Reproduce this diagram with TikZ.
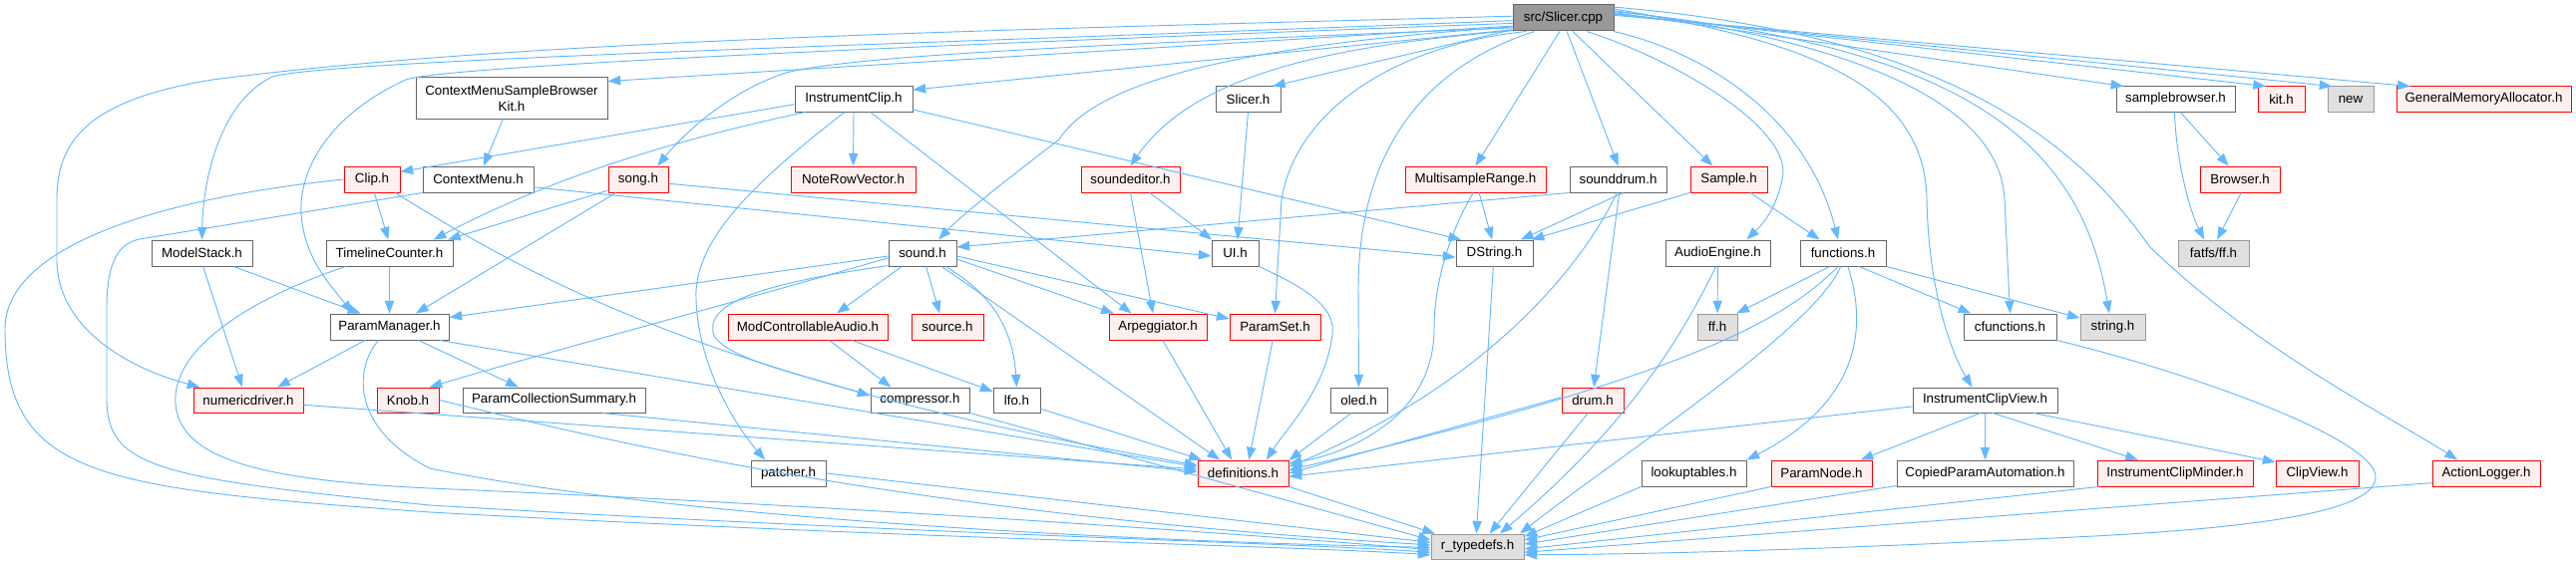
\documentclass[tikz,border=0pt]{standalone}
\usepackage{fontspec}
\setmainfont{Liberation Sans}
\usetikzlibrary{arrows.meta}
\definecolor{edgec}{HTML}{63B8FF}
\definecolor{nrmdraw}{HTML}{666666}
\definecolor{reddraw}{HTML}{FF0000}
\definecolor{redfill}{HTML}{FFF0F0}
\definecolor{extdraw}{HTML}{999999}
\definecolor{extfill}{HTML}{E0E0E0}
\definecolor{rootfill}{HTML}{999999}
\definecolor{rootdraw}{HTML}{666666}
\newcommand\mkbox[7]{\node[#2, minimum width={(#5-#3)*0.75pt}, minimum height={(#6-#4)*0.75pt}] (#1) at ({(#3+#5)/2},{(#4+#6)/2}) {#7};}
\tikzset{
  basebox/.style={rectangle, inner sep=0pt, line width=0.75pt, font=\fontsize{10}{12}\selectfont, text=black},
  nrm/.style={basebox, draw=nrmdraw, fill=white},
  redb/.style={basebox, draw=reddraw, fill=redfill},
  ext/.style={basebox, draw=extdraw, fill=extfill},
  rootb/.style={basebox, draw=rootdraw, fill=rootfill},
  e/.style={draw=edgec, line width=0.7pt, -{Triangle[length=9.5pt,width=7pt]}},
}
\begin{document}
\begin{tikzpicture}[x=0.75pt,y=-0.75pt]
\useasboundingbox (0,0) rectangle (2583,567);
% row 0
\mkbox{root}{rootb}{1517}{5}{1618}{31}{src/Slicer.cpp}
% row 1
\mkbox{cmsbk}{nrm,align=center}{417}{78}{609}{119}{ContextMenuSampleBrowser\\Kit.h}
\mkbox{iclip}{nrm}{797}{87}{915}{112}{InstrumentClip.h}
\mkbox{slicerh}{nrm}{1219}{87}{1284}{112}{Slicer.h}
\mkbox{sbrowser}{nrm}{2122}{87}{2241}{112}{samplebrowser.h}
\mkbox{kit}{redb}{2264}{87}{2311}{112}{kit.h}
\mkbox{new}{ext}{2334}{87}{2380}{112}{new}
\mkbox{gma}{redb}{2403}{87}{2578}{112}{GeneralMemoryAllocator.h}
% row 2
\mkbox{clip}{redb}{345}{167}{401}{193}{Clip.h}
\mkbox{cmenu}{nrm}{424}{167}{535}{193}{ContextMenu.h}
\mkbox{song}{redb}{610}{167}{670}{193}{song.h}
\mkbox{nrv}{redb}{793}{167}{918}{193}{NoteRowVector.h}
\mkbox{sedit}{redb}{1084}{167}{1183}{193}{soundeditor.h}
\mkbox{msr}{redb}{1409}{167}{1550}{193}{MultisampleRange.h}
\mkbox{sdrum}{nrm}{1574}{167}{1671}{193}{sounddrum.h}
\mkbox{sample}{redb}{1695}{167}{1772}{193}{Sample.h}
\mkbox{browser}{redb}{2206}{167}{2286}{193}{Browser.h}
% row 3
\mkbox{mstack}{nrm}{152}{241}{253}{267}{ModelStack.h}
\mkbox{tcount}{nrm}{327}{241}{454}{267}{TimelineCounter.h}
\mkbox{sound}{nrm}{891}{241}{959}{267}{sound.h}
\mkbox{ui}{nrm}{1215}{241}{1262}{267}{UI.h}
\mkbox{dstring}{nrm}{1460}{241}{1537}{267}{DString.h}
\mkbox{aeng}{nrm}{1670}{241}{1775}{267}{AudioEngine.h}
\mkbox{func}{nrm}{1805}{241}{1891}{267}{functions.h}
\mkbox{fatfs}{ext}{2184}{241}{2255}{267}{fatfs/ff.h}
% row 4
\mkbox{pman}{nrm}{331}{315}{450}{341}{ParamManager.h}
\mkbox{mca}{redb}{730}{315}{890}{341}{ModControllableAudio.h}
\mkbox{source}{redb}{914}{315}{986}{341}{source.h}
\mkbox{arp}{redb}{1112}{315}{1210}{341}{Arpeggiator.h}
\mkbox{pset}{redb}{1233}{315}{1324}{341}{ParamSet.h}
\mkbox{ff}{ext}{1702}{315}{1742}{341}{ff.h}
\mkbox{cfunc}{nrm}{1969}{315}{2062}{341}{cfunctions.h}
\mkbox{string}{ext}{2086}{315}{2151}{341}{string.h}
% row 5
\mkbox{numdrv}{redb}{194}{389}{304}{414}{numericdriver.h}
\mkbox{knob}{redb}{378}{389}{440}{414}{Knob.h}
\mkbox{pcs}{nrm}{464}{389}{647}{414}{ParamCollectionSummary.h}
\mkbox{comp}{nrm}{873}{389}{972}{414}{compressor.h}
\mkbox{lfo}{nrm}{996}{389}{1043}{414}{lfo.h}
\mkbox{oled}{nrm}{1334}{389}{1391}{414}{oled.h}
\mkbox{drum}{redb}{1566}{389}{1628}{414}{drum.h}
\mkbox{icv}{nrm}{1918}{389}{2063}{414}{InstrumentClipView.h}
% row 6
\mkbox{patcher}{nrm}{753}{462}{828}{488}{patcher.h}
\mkbox{defs}{redb}{1201}{462}{1292}{488}{definitions.h}
\mkbox{lut}{nrm}{1646}{462}{1751}{488}{lookuptables.h}
\mkbox{pnode}{redb}{1776}{462}{1877}{488}{ParamNode.h}
\mkbox{cpa}{nrm}{1902}{462}{2079}{488}{CopiedParamAutomation.h}
\mkbox{icm}{redb}{2103}{462}{2259}{488}{InstrumentClipMinder.h}
\mkbox{cview}{redb}{2282}{462}{2365}{488}{ClipView.h}
\mkbox{alog}{redb}{2439}{462}{2547}{488}{ActionLogger.h}
% row 7
\mkbox{rtd}{ext}{1435}{536}{1528}{561}{r\_typedefs.h}

% ---------- edges from root ----------
\draw[e] (root.178) .. controls (1000,30) and (520,40) .. (213,80) .. controls (90,100) and (57,140) .. (57,200) -- (57,262) .. controls (58,330) and (130,370) .. (numdrv.165);
\draw[e] (root.183) .. controls (900,45) and (330,60) .. (273,77) .. controls (225,100) and (204,170) .. (mstack.north);
\draw[e] (root.186) .. controls (800,50) and (440,68) .. (407,80) .. controls (330,115) and (300,170) .. (302,213) .. controls (304,260) and (335,290) .. (pman.160);
\draw[e] (root.189) -- (cmsbk.10);
\draw[e] (root.191) .. controls (1100,45) and (860,55) .. (788,73) .. controls (730,92) and (685,135) .. (song.35);
\draw[e] (root.193) -- (iclip.9);
\draw[e] (root.190) .. controls (1250,45) and (1100,80) .. (1062,140) .. controls (1010,180) and (965,215) .. (sound.40);
\draw[e] (root.194) .. controls (1350,45) and (1200,70) .. (sedit.north);
\draw[e] (root.193) -- (slicerh.28);
\draw[e] (root.200) .. controls (1400,45) and (1300,110) .. (1285,200) -- (pset.north);
\draw[e] (root.205) .. controls (1420,70) and (1362,160) .. (1362,290) -- (oled.north);
\draw[e] (root.255) -- (msr.north);
\draw[e] (root.285) -- (sdrum.north);
\draw[e] (root.305) -- (sample.140);
\draw[e] (root.330) .. controls (1680,60) and (1800,130) .. (1787,180) .. controls (1780,215) and (1762,230) .. (aeng.25);
\draw[e] (root.345) .. controls (1700,50) and (1810,110) .. (func.110);
\draw[e] (root.10) .. controls (1800,40) and (1930,80) .. (1932,200) .. controls (1934,300) and (1960,360) .. (icv.135);
\draw[e] (root.8) .. controls (1850,40) and (2005,100) .. (2010,200) -- (cfunc.north);
\draw[e] (root.7) .. controls (1950,45) and (2085,130) .. (string.105);
\draw[e] (root.12) .. controls (1950,35) and (2080,140) .. (2155,247) .. controls (2260,350) and (2400,420) .. (alog.155);
\draw[e] (root.6) -- (sbrowser.166);
\draw[e] (root.5) -- (kit.140);
\draw[e] (root.4) -- (new.145);
\draw[e] (root.3) -- (gma.170);

% ---------- row 1 sources ----------
\draw[e] (cmsbk) -- (cmenu);
\draw[e] (iclip.185) -- (clip.15);
\draw[e] (iclip.195) .. controls (680,140) and (560,175) .. (tcount.17);
\draw[e] (iclip.south) -- (nrv.north);
\draw[e] (iclip.322) -- (arp.153);
\draw[e] (iclip.350) -- (dstring.158);
\draw[e] (iclip.235) .. controls (760,180) and (695,240) .. (698,300) .. controls (700,370) and (740,430) .. (patcher.150);
\draw[e] (slicerh.south) -- (ui.80);
\draw[e] (sbrowser.290) -- (browser.130);
\draw[e] (sbrowser.265) .. controls (2182,160) and (2195,210) .. (fatfs.125);

% ---------- row 2 sources ----------
\draw[e] (clip.280) -- (tcount.95);
\draw[e] (clip.330) .. controls (520,270) and (700,380) .. (defs.170);
\draw[e] (clip.west) .. controls (150,200) and (5,250) .. (5,330) .. controls (5,480) and (100,490) .. (431,514) .. controls (900,540) and (1300,548) .. (rtd.190);
\draw[e] (cmenu.352) -- (ui.187);
\draw[e] (cmenu.south west) -- (140,240) .. controls (115,245) and (107,270) .. (107,310) -- (107,400) .. controls (107,470) and (160,480) .. (431,507) .. controls (900,535) and (1300,545) .. (rtd.187);
\draw[e] (song.200) -- (tcount.13);
\draw[e] (song.211) -- (pman.27);
\draw[e] (song.352) -- (dstring.186);
\draw[e] (sedit.325) -- (ui.150);
\draw[e] (sedit.270) -- (arp.110);
\draw[e] (msr.285) -- (dstring.100);
\draw[e] (msr.260) .. controls (1450,240) and (1438,290) .. (1438,330) .. controls (1438,420) and (1350,455) .. (defs.12);
\draw[e] (sdrum.south west) -- (sound.10);
\draw[e] (sdrum.290) -- (dstring.27);
\draw[e] (sdrum.275) -- (drum.85);
\draw[e] (sdrum.265) .. controls (1590,260) and (1500,380) .. (defs.8);
\draw[e] (sample.south west) -- (dstring.20);
\draw[e] (sample.328) -- (func.150);
\draw[e] (browser.275) -- (fatfs.75);

% ---------- row 3 sources ----------
\draw[e] (mstack.337) -- (pman.155);
\draw[e] (mstack.275) -- (numdrv.115);
\draw[e] (tcount) -- (pman);
\draw[e] (tcount.197) .. controls (250,300) and (172,350) .. (176,405) .. controls (180,460) and (260,482) .. (431,490) .. controls (900,510) and (1300,540) .. (rtd.184);
\draw[e] (sound.185) -- (pman.9);
\draw[e] (sound.188) .. controls (750,300) and (560,350) .. (knob.31);
\draw[e] (sound.213) -- (mca.25);
\draw[e] (sound.285) -- (source.120);
\draw[e] (sound.330) .. controls (985,290) and (1015,320) .. (lfo.north);
\draw[e] (sound.350) -- (arp.163);
\draw[e] (sound.355) -- (pset.170);
\draw[e] (sound.325) -- (defs.150);
\draw[e] (sound.200) .. controls (760,285) and (705,305) .. (716,337) .. controls (730,360) and (800,375) .. (comp.175);
\draw[e] (ui.south east) .. controls (1300,285) and (1340,305) .. (1336,335) .. controls (1330,390) and (1290,430) .. (defs.30);
\draw[e] (dstring.265) -- (rtd.95);
\draw[e] (aeng) -- (ff);
\draw[e] (aeng.262) .. controls (1690,330) and (1640,420) .. (rtd.30);
\draw[e] (func.225) -- (ff.35);
\draw[e] (func.250) .. controls (1790,320) and (1700,375) .. (defs.4);
\draw[e] (func.260) .. controls (1820,330) and (1620,460) .. (rtd.17);
\draw[e] (func.290) .. controls (1870,320) and (1872,400) .. (lut.north east);
\draw[e] (func.320) -- (cfunc.161);
\draw[e] (func.south east) -- (string.165);

% ---------- row 4 sources ----------
\draw[e] (pman.209) -- (numdrv.24);
\draw[e] (pman.335) -- (pcs.160);
\draw[e] (pman.345) -- (defs.172);
\draw[e] (pman.231) .. controls (355,370) and (352,430) .. (431,470) .. controls (700,525) and (1200,545) .. (rtd.181);
\draw[e] (mca.328) -- (comp.156);
\draw[e] (mca.343) -- (lfo.160);
\draw[e] (arp.290) -- (defs.130);
\draw[e] (pset.260) -- (defs.67);
\draw[e] (cfunc.south east) .. controls (2200,375) and (2380,440) .. (2382,478) .. controls (2384,515) and (2250,530) .. (2100,538) .. controls (1900,548) and (1700,556) .. (rtd.350);

% ---------- row 5 sources ----------
\draw[e] (numdrv.355) -- (defs.175);
\draw[e] (knob.east) .. controls (600,440) and (900,515) .. (rtd.178);
\draw[e] (pcs.345) -- (defs.178);
\draw[e] (comp.south east) -- (rtd.172);
\draw[e] (lfo.340) -- (defs.162);
\draw[e] (oled.240) -- (defs.16);
\draw[e] (drum.175) -- (defs.0);
\draw[e] (drum.250) -- (rtd.47);
\draw[e] (icv.185) -- (defs.356);
\draw[e] (icv.250) -- (pnode.19);
\draw[e] (icv) -- (cpa);
\draw[e] (icv.300) -- (icm.160);
\draw[e] (icv.345) -- (cview.165);

% ---------- row 6 sources ----------
\draw[e] (patcher.east) -- (rtd.175);
\draw[e] (defs.south east) -- (rtd.163);
\draw[e] (lut.south west) -- (rtd.12);
\draw[e] (pnode.south west) -- (rtd.8);
\draw[e] (cpa.188) -- (rtd.3);
\draw[e] (icm.190) -- (rtd.357);
\draw[e] (alog.190) -- (rtd.353);
\end{tikzpicture}
\end{document}
